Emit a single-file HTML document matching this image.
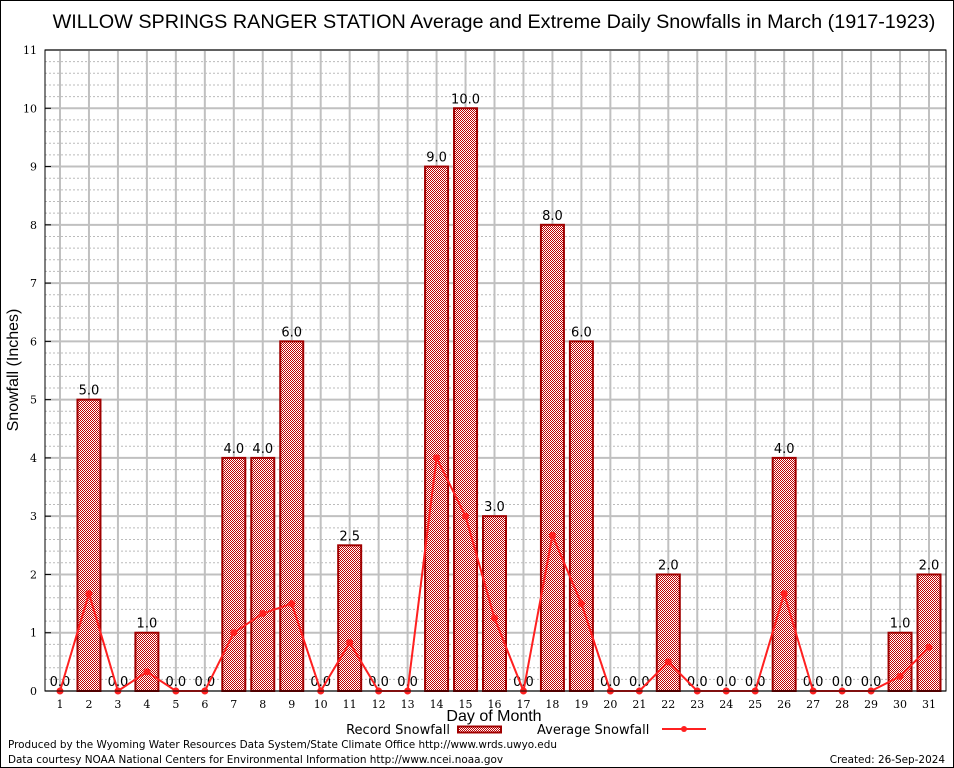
<!DOCTYPE html>
<html><head><meta charset="utf-8"><style>
body{margin:0;background:#fff}
svg{display:block}
</style></head><body>
<svg id="chart" width="954" height="768" xmlns="http://www.w3.org/2000/svg">
<defs>
<pattern id="hatch" width="2" height="2" patternUnits="userSpaceOnUse">
<rect width="2" height="2" fill="#fff"/>
<rect x="0" y="0" width="1" height="1" fill="#c00000"/>
<rect x="1" y="1" width="1" height="1" fill="#c00000"/>
</pattern>
</defs>
<rect x="0.5" y="0.5" width="953" height="767" fill="#fff" stroke="#000"/>
<text x="494" y="28" text-anchor="middle" font-family="Liberation Sans, sans-serif" font-size="19.8">WILLOW SPRINGS RANGER STATION Average and Extreme Daily Snowfalls in March (1917-1923)</text>
<g id="grid"></g>
<g id="bars"></g>
<g id="line"></g>
<g id="axes"></g>
<text x="18" y="370" transform="rotate(-90 18 370)" text-anchor="middle" font-family="Liberation Sans, sans-serif" font-size="16">Snowfall (Inches)</text>
<text x="494" y="721" text-anchor="middle" font-family="Liberation Sans, sans-serif" font-size="16">Day of Month</text>
<g>
<text x="450" y="734" text-anchor="end" font-family="DejaVu Sans, sans-serif" font-size="13">Record Snowfall</text>
<rect x="458" y="726.5" width="43" height="6" fill="url(#hatch)" stroke="#a00000" stroke-width="2"/>
<text x="537" y="734" font-family="DejaVu Sans, sans-serif" font-size="13">Average Snowfall</text>
<line x1="662" y1="729" x2="706" y2="729" stroke="#ff2020" stroke-width="2"/>
<circle cx="684" cy="729" r="3" fill="#ff2020"/>
</g>
<text x="8" y="748" font-family="DejaVu Sans, sans-serif" font-size="10.45">Produced by the Wyoming Water Resources Data System/State Climate Office http://www.wrds.uwyo.edu</text>
<text x="8" y="763" font-family="DejaVu Sans, sans-serif" font-size="10.45">Data courtesy NOAA National Centers for Environmental Information http://www.ncei.noaa.gov</text>
<text x="945" y="763" text-anchor="end" font-family="DejaVu Sans, sans-serif" font-size="10.45">Created:  26-Sep-2024</text>
</svg>
<script>
const days=[1,2,3,4,5,6,7,8,9,10,11,12,13,14,15,16,17,18,19,20,21,22,23,24,25,26,27,28,29,30,31];
const recordSnow=[0,5,0,1,0,0,4,4,6,0,2.5,0,0,9,10,3,0,8,6,0,0,2,0,0,0,4,0,0,0,1,2];
const avgSnow=[0,1.67,0,0.33,0,0,1,1.33,1.5,0,0.83,0,0,4,3,1.25,0,2.67,1.5,0,0,0.5,0,0,0,1.67,0,0,0,0.25,0.75];
const yTicks=[0,1,2,3,4,5,6,7,8,9,10,11];
const NS="http://www.w3.org/2000/svg";
const L=45,R=946,T=50,B=691,yMax=11;
const x=d=>60+(d-1)*(929-60)/30;
const y=v=>B-v*(B-T)/yMax;
function mk(tag,attrs,parent,text){const e=document.createElementNS(NS,tag);for(const k in attrs)e.setAttribute(k,attrs[k]);if(text!==undefined)e.textContent=text;parent.appendChild(e);return e;}
const grid=document.getElementById('grid'),bars=document.getElementById('bars'),line=document.getElementById('line'),axes=document.getElementById('axes');
for(let v=0;v<=yMax;v+=0.2){const vv=Math.round(v*10)/10;if(Math.abs(vv-Math.round(vv))<1e-6)continue;
const g=mk('line',{x1:L,x2:R,y1:y(vv),y2:y(vv),stroke:'#bbb','stroke-dasharray':'2,2','stroke-width':1},grid);

}
yTicks.forEach(t=>{const g=mk('line',{x1:L,x2:R,y1:y(t),y2:y(t),stroke:'#c0c0c0','stroke-width':2},grid);


const lb=mk('text',{x:L-8,y:y(t)+4,'text-anchor':'end','font-family':'DejaVu Serif, serif','font-size':11},axes,String(t));

});
days.forEach(d=>{const g=mk('line',{x1:x(d),x2:x(d),y1:T,y2:B,stroke:'#c0c0c0','stroke-width':2},grid);


const lb=mk('text',{x:x(d),y:B+17,'text-anchor':'middle','font-family':'DejaVu Serif, serif','font-size':11},axes,String(d));

});
const bw=23;
days.forEach((d,i)=>{const v=recordSnow[i];
if(v>0){const r=mk('rect',{x:x(d)-bw/2,y:y(v),width:bw,height:B-y(v),fill:'url(#hatch)',stroke:'#a00000','stroke-width':2},bars);

}
const t=mk('text',{x:x(d),y:y(v)-5,'text-anchor':'middle','font-family':'DejaVu Sans, sans-serif','font-size':13},bars,v.toFixed(1));

});
const pl=mk('polyline',{points:days.map((d,i)=>x(d)+','+y(avgSnow[i])).join(' '),fill:'none',stroke:'#ff2020','stroke-width':2},line);


days.forEach((d,i)=>{const c=mk('circle',{cx:x(d),cy:y(avgSnow[i]),r:3.5,fill:'#ff2020'},line);

});
const ax=mk('path',{d:`M${L},${T} V${B} H${R} V${T} Z`,fill:'none',stroke:'#000','stroke-width':1},axes);


yTicks.forEach(t=>{const k=mk('line',{x1:L,x2:L+6,y1:y(t),y2:y(t),stroke:'#000'},axes);

});
</script>
</body></html>
